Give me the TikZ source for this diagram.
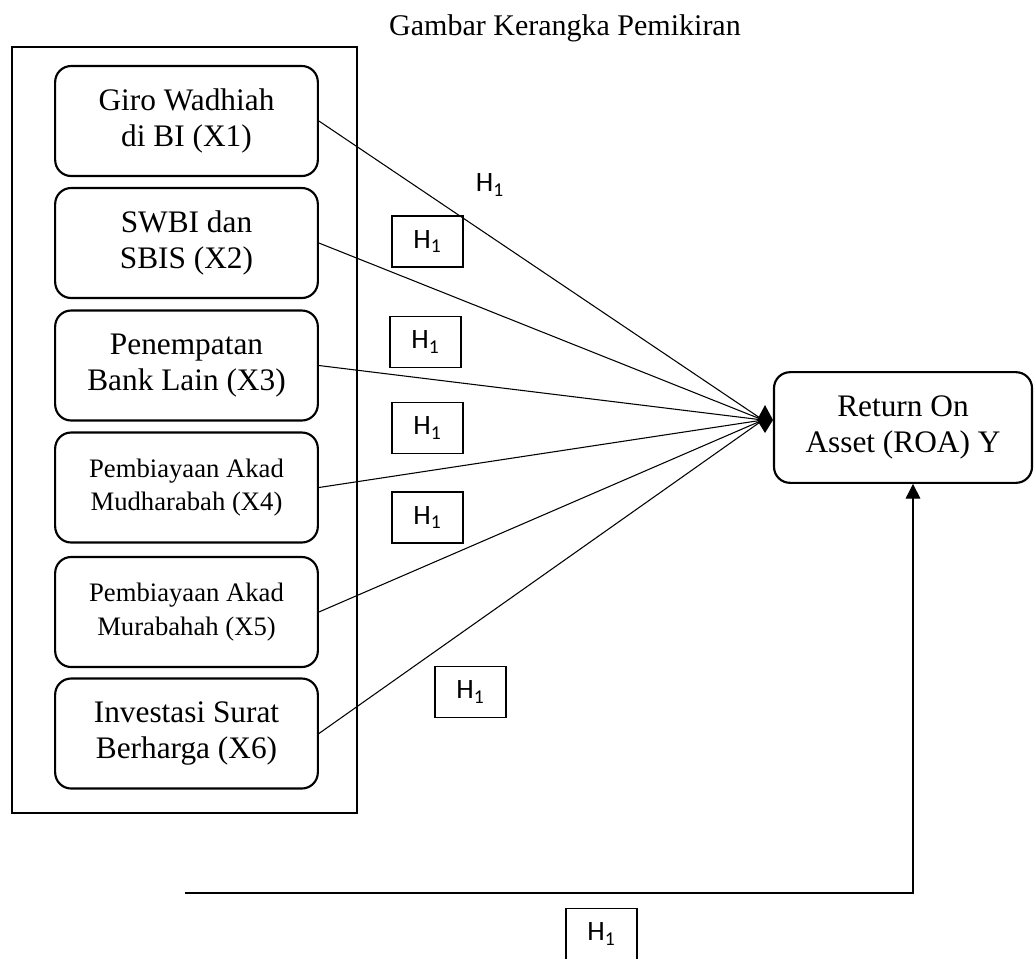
\documentclass[tikz,border=0pt]{standalone}
\usepackage{fontspec}
\setmainfont{Liberation Serif}
\newfontfamily\hfont{Carlito}
\usetikzlibrary{arrows.meta,calc}
\begin{document}
\begin{tikzpicture}[x=0.75pt,y=-0.75pt,
  varbox/.style={draw,line width=1.6pt,rounded corners=12pt,minimum width=197pt,minimum height=82.5pt,align=center,inner sep=0pt},
  bigtxt/.style={font=\fontsize{23.5pt}{26.5pt}\selectfont},
  smalltxt/.style={font=\fontsize{20pt}{25pt}\selectfont},
  hbox/.style={draw,line width=0.8pt,minimum width=53.25pt,minimum height=38.25pt,inner sep=0pt,font=\hfont\fontsize{21pt}{24pt}\selectfont},
  hfree/.style={inner sep=0pt,font=\hfont\fontsize{21pt}{24pt}\selectfont},
  link/.style={line width=0.8pt}]
\useasboundingbox (0,0) rectangle (1034,958);
\node[font=\fontsize{22.5pt}{27pt}\selectfont] (title) at (565,28) {Gambar Kerangka Pemikiran};
\draw[line width=2pt] (12,47) rectangle (357,813);
\node[varbox,bigtxt] (x1) at (186.5,121) {Giro Wadhiah\\di BI (X1)};
\node[varbox,bigtxt] (x2) at (186.5,243) {SWBI dan\\SBIS (X2)};
\node[varbox,bigtxt] (x3) at (186.5,365.5) {Penempatan\\Bank Lain (X3)};
\node[varbox,smalltxt] (x4) at (186.5,487.5) {Pembiayaan Akad\\Mudharabah (X4)};
\node[varbox,smalltxt] (x5) at (186.5,612) {Pembiayaan Akad\\Murabahah (X5)};
\node[varbox,bigtxt] (x6) at (186.5,733.5) {Investasi Surat\\Berharga (X6)};
\node[varbox,bigtxt,minimum width=193.5pt,minimum height=83pt] (roa) at (903,427.5) {Return On\\Asset (ROA) Y};
\coordinate (conv) at (763,420);
\foreach \n in {x1,x2,x3,x4,x5,x6} \draw[link] (\n.east) -- (conv);
\fill ($(conv)+(-6,0)$) -- ($(conv)+(2,-15)$) -- ($(conv)+(10,0)$) -- ($(conv)+(2,13)$) -- cycle;
\coordinate (bl) at (185,893);
\draw[link,-{Triangle[length=11pt,width=11pt]}] (bl) -| ([xshift=7.5pt]roa.south);
\node[hfree] (h0) at (490,185) {H\textsubscript{1}};
\node[hbox] (h1) at (427.5,241.5) {H\textsubscript{1}};
\node[hbox] (h2) at (425.5,342) {H\textsubscript{1}};
\node[hbox] (h3) at (427.5,428) {H\textsubscript{1}};
\node[hbox] (h4) at (427.5,517.5) {H\textsubscript{1}};
\node[hbox] (h5) at (470.5,692) {H\textsubscript{1}};
\node[hbox] (h6) at (601.5,934) {H\textsubscript{1}};
\end{tikzpicture}
\end{document}
